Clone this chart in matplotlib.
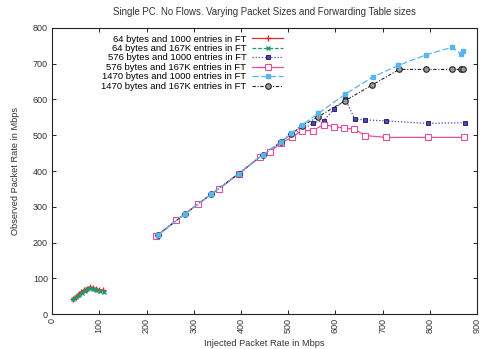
import matplotlib
matplotlib.use("Agg")
import matplotlib.pyplot as plt

plt.rcParams["font.family"] = ["Liberation Sans", "DejaVu Sans"]

# 64 byte packets
x_64_1k = [44, 50, 56, 62, 68, 74, 80, 86, 93, 100, 107]
y_64_1k = [42, 49, 56, 62, 67, 71, 75, 72, 70, 68, 67]
x_64_167k = [45, 51, 57, 63, 69, 75, 81, 87, 94, 101, 110]
y_64_167k = [41, 48, 54, 60, 65, 69, 72, 70, 67, 64, 61]

# 576 byte packets
x_576_1k = [221, 263, 308, 353, 395, 441, 462, 485, 506, 527, 553, 575, 597, 621, 641, 663, 707, 795, 874]
y_576_1k = [218, 262, 307, 350, 392, 440, 457, 482, 503, 513, 535, 541, 573, 600, 545, 543, 540, 533, 535]
x_576_167k = [221, 263, 308, 353, 395, 441, 462, 485, 508, 529, 552, 575, 597, 619, 640, 663, 707, 795, 873]
y_576_167k = [218, 262, 307, 350, 392, 440, 454, 479, 494, 513, 513, 530, 524, 520, 517, 499, 494, 494, 494]

# 1470 byte packets
x_1470_1k = [225, 281, 337, 395, 446, 485, 506, 530, 564, 621, 679, 733, 792, 847, 866, 869]
y_1470_1k = [222, 280, 335, 393, 445, 482, 505, 530, 561, 615, 663, 695, 725, 746, 727, 736]
x_1470_167k = [225, 281, 337, 395, 446, 485, 506, 530, 564, 621, 677, 735, 791, 847, 866, 870]
y_1470_167k = [222, 280, 335, 393, 445, 482, 503, 527, 552, 597, 640, 684, 684, 684, 684, 684]

x_ticks = list(range(0, 1000, 100))
y_ticks = list(range(0, 900, 100))

fig = plt.figure(figsize=(4.82, 3.49), dpi=100)
ax = fig.add_axes([0.108, 0.100, 0.882, 0.820])

ms = 4
ax.plot(x_64_1k, y_64_1k, color="#e02828", lw=0.9, ls="-", marker="+", ms=ms,
        label="64 bytes and 1000 entries in FT")
ax.plot(x_64_167k, y_64_167k, color="#1e9a6e", lw=0.9, ls=(0, (3, 1.5)), marker="x", ms=ms - 1,
        label="64 bytes and 167K entries in FT")
ax.plot(x_576_1k, y_576_1k, color="#5a3cb4", lw=0.9, ls=(0, (1, 1.5)), marker="s", ms=ms - 0.5,
        mfc="#6040b0", mec="#202a70", mew=0.7, label="576 bytes and 1000 entries in FT")
ax.plot(x_576_167k, y_576_167k, color="#e0509a", lw=0.9, ls="-", marker="s", ms=ms,
        mfc="white", mec="#e0509a", mew=0.8, label="576 bytes and 167K entries in FT")
ax.plot(x_1470_167k, y_1470_167k, color="#222222", lw=0.8, ls=(0, (3, 1.5, 1, 1.5)), marker="o", ms=ms,
        mfc="#9a9a9a", mec="#222222", mew=0.8, label="1470 bytes and 167K entries in FT", zorder=2)
ax.plot(x_1470_1k, y_1470_1k, color="#5ab4f0", lw=0.9, ls=(0, (5, 2)), marker="s", ms=ms - 0.5,
        mfc="#5ab4f0", mec="#5ab4f0", label="1470 bytes and 1000 entries in FT", zorder=3)

ax.set_xlim(0, 900)
ax.set_ylim(0, 800)
ax.set_xticks(x_ticks)
ax.set_yticks(y_ticks)
ax.set_xticklabels([str(t) for t in x_ticks], rotation=90, fontsize=6.5, color="#333333")
ax.set_yticklabels([str(t) for t in y_ticks], fontsize=6.5, color="#333333")
ax.tick_params(direction="in", top=True, right=True, length=3, width=0.6, pad=3)
for s in ax.spines.values():
    s.set_linewidth(0.8)
    s.set_color("#222222")

ax.set_title("Single PC. No Flows. Varying Packet Sizes and Forwarding Table sizes",
             fontsize=6.9, color="#333333", pad=9)
ax.set_xlabel("Injected Packet Rate in Mbps", fontsize=6.7, color="#333333", labelpad=4)
ax.set_ylabel("Observed Packet Rate in Mbps", fontsize=6.7, color="#333333", labelpad=9)

# keep legend order as in the reference
handles, labels = ax.get_legend_handles_labels()
order = [0, 1, 2, 3, 5, 4]
ax.legend([handles[i] for i in order], [labels[i] for i in order],
          loc="upper left", bbox_to_anchor=(0.1, 1.0), markerfirst=False, frameon=False,
          fontsize=6.8, handlelength=3.3, labelspacing=0.05, handletextpad=0.6,
          borderaxespad=0.3, numpoints=1)

fig.savefig("out.png", dpi=100)
